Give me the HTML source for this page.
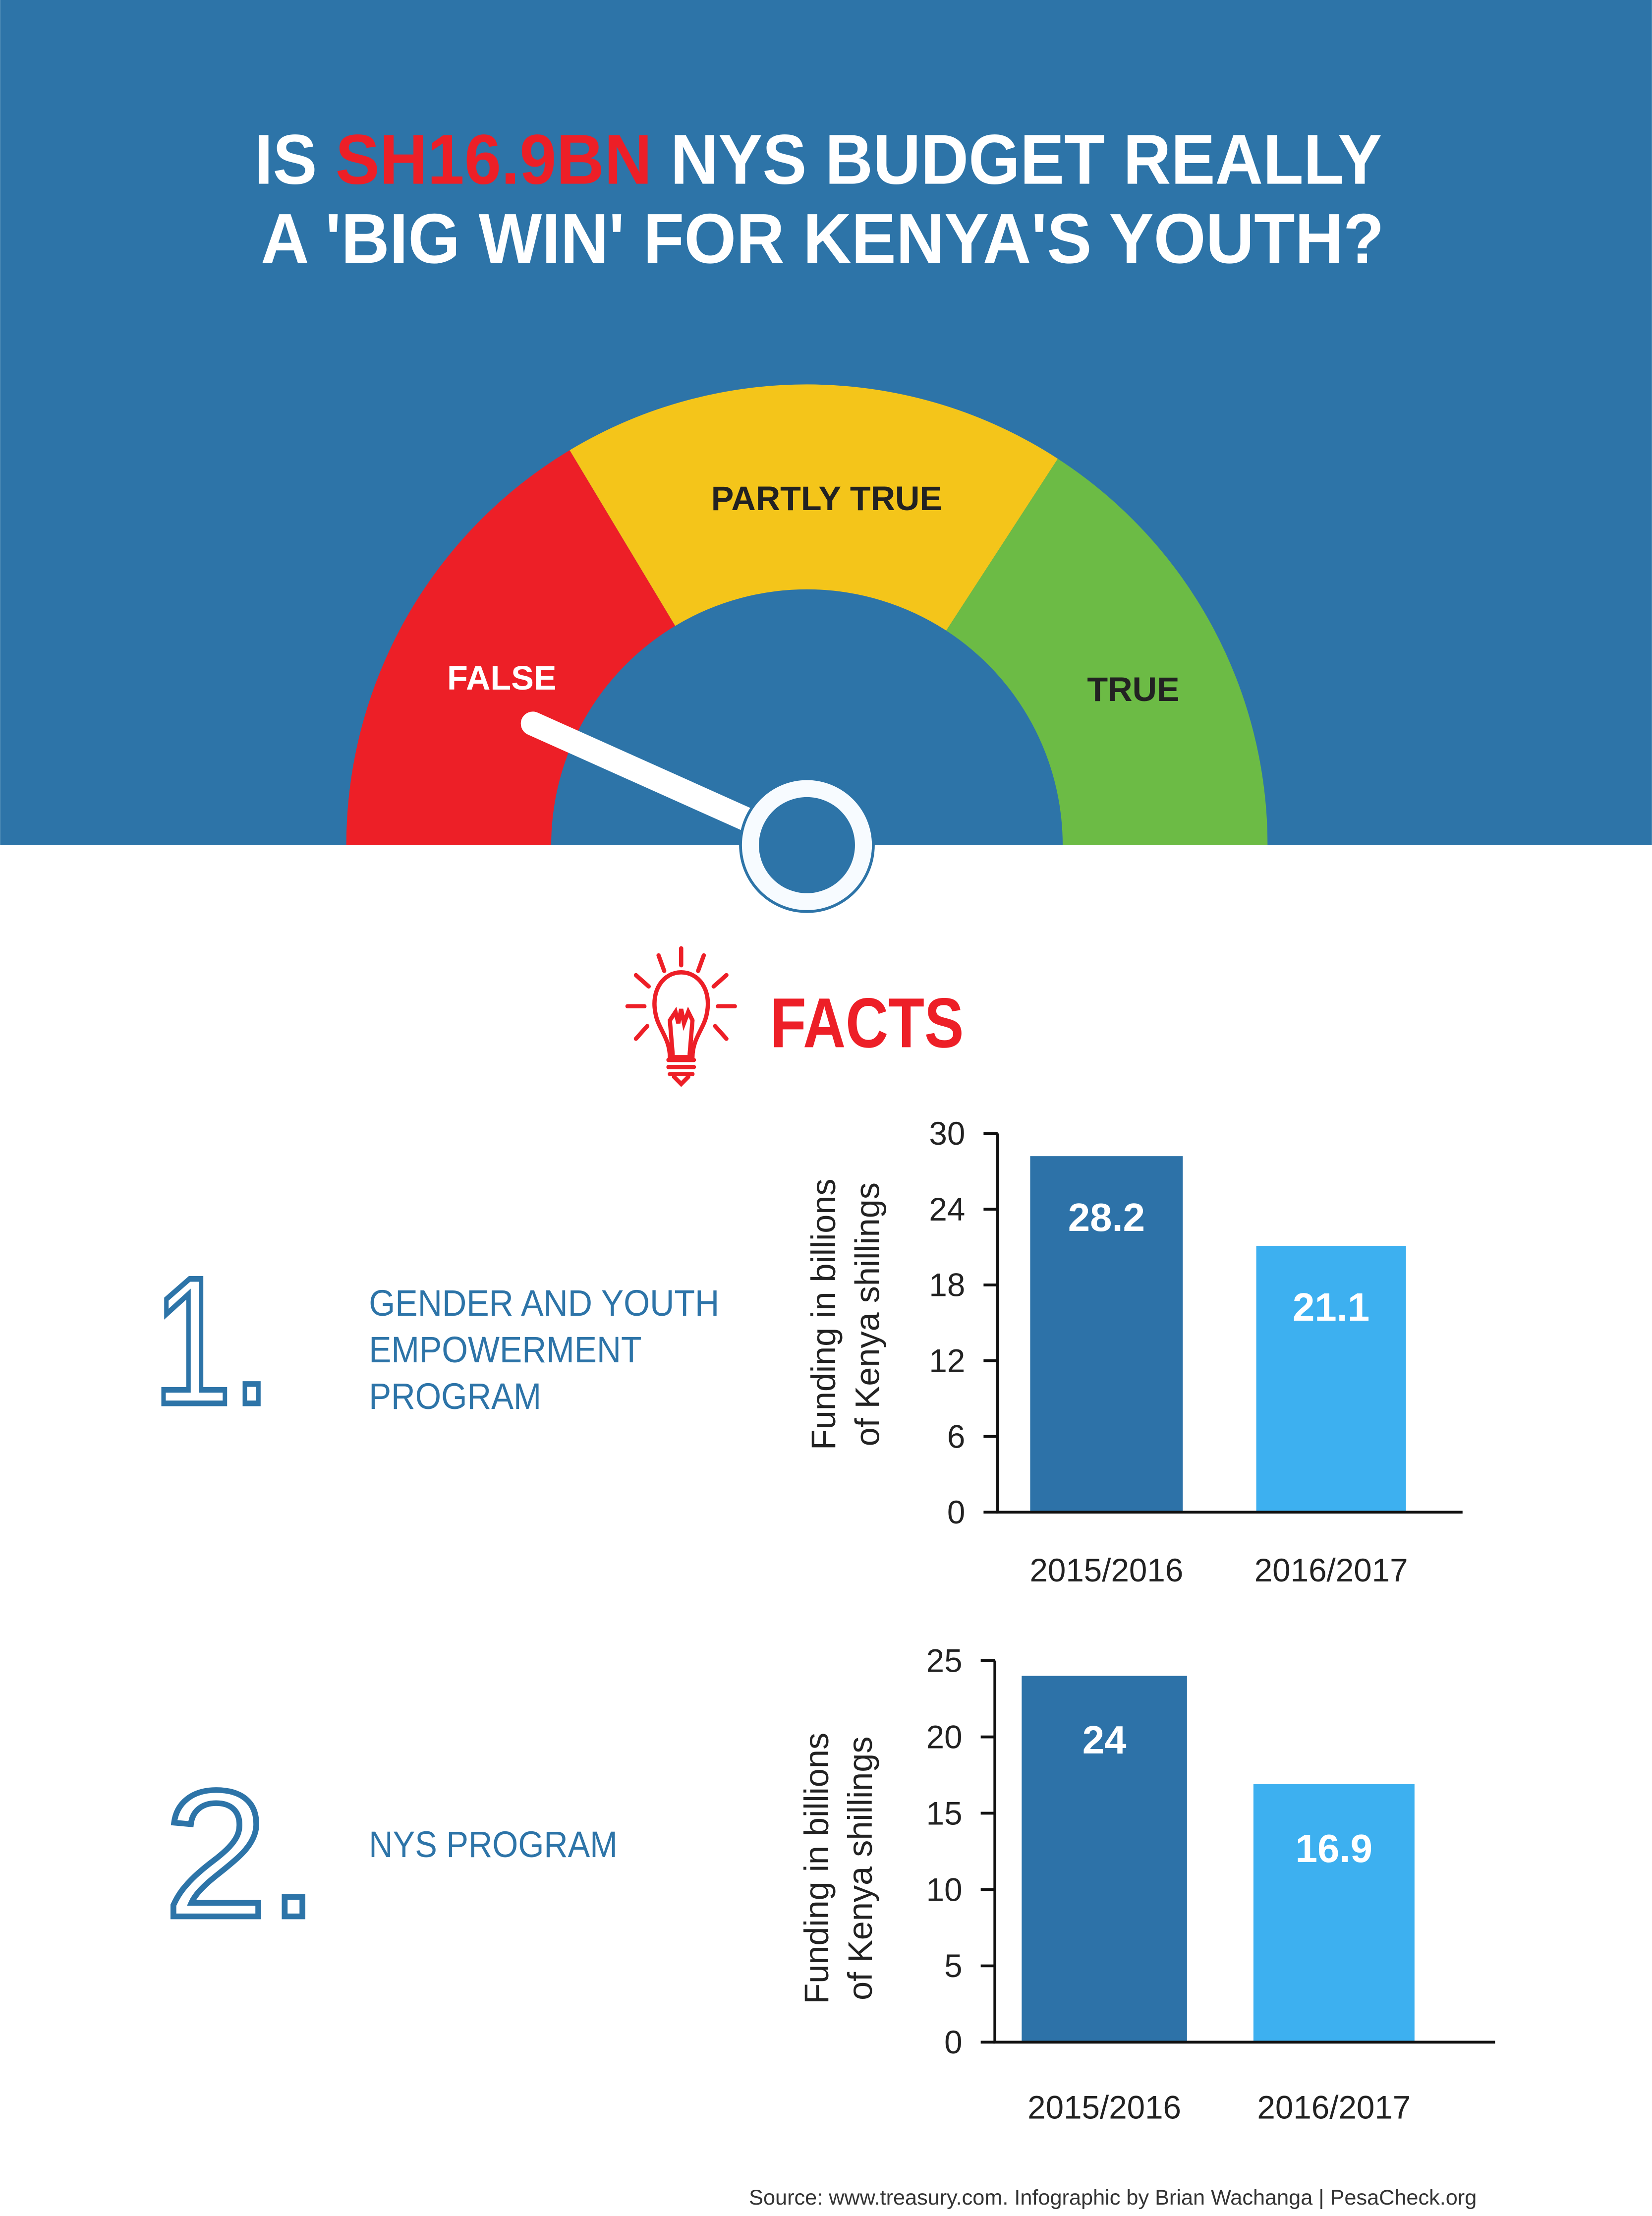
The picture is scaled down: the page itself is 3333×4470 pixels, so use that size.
<!DOCTYPE html>
<html><head><meta charset="utf-8"><style>
html,body{margin:0;padding:0;background:#fff}
svg{display:block}
text{font-family:"Liberation Sans",sans-serif}
</style></head><body>
<svg id="root" width="3333" height="4470" viewBox="0 0 1169 1568" xmlns="http://www.w3.org/2000/svg">
<rect x="0" y="0" width="1169" height="598" fill="#2d74a8"/>
<g font-weight="bold" font-size="50" fill="#fff" text-anchor="middle">
<text x="579" y="130" textLength="798" lengthAdjust="spacingAndGlyphs">IS <tspan fill="#ed1f27">SH16.9BN</tspan> NYS BUDGET REALLY</text>
<text x="582" y="186" textLength="795" lengthAdjust="spacingAndGlyphs">A 'BIG WIN' FOR KENYA'S YOUTH?</text>
</g>
<g id="gauge"></g>
<g font-weight="bold" font-size="24" text-anchor="middle">
<text x="355" y="488" fill="#fff">FALSE</text>
<text x="585" y="361" fill="#222">PARTLY TRUE</text>
<text x="802" y="496" fill="#222">TRUE</text>
</g>
<g>
<line x1="377" y1="512" x2="560" y2="594" stroke="#fff" stroke-width="17" stroke-linecap="round"/>
<circle cx="571" cy="598" r="48" fill="#2d74a8"/>
<circle cx="571" cy="598" r="46" fill="#f7fbff"/>
<circle cx="571" cy="598" r="34" fill="#2d74a8"/>
</g>
<g stroke="#ed1f27" stroke-width="3" fill="none" stroke-linecap="round">
<path d="M474,748 C474,735 466,728 464,718 C460,700 470,688 482,688 C494,688 504,700 500,718 C498,728 490,735 490,748 Z"/>
<path d="M476,746 L474,722 L478,716 L480,724 L482,714 L484,724 L487,716 L490,722 L488,746"/>
<path d="M473,750 H491 M473,755 H491 M474,760 H490 M477,762 L482,767 L487,762" />
<path d="M482,671 V683 M466,676 L470,687 M498,676 L494,687 M450,690 L459,698 M514,690 L505,698 M444,712 H456 M508,712 H520 M450,735 L458,726 M514,735 L506,726"/>
</g>
<text x="545" y="741" font-size="50" font-weight="bold" fill="#ed1f27" textLength="137" lengthAdjust="spacingAndGlyphs">FACTS</text>
<g>
<text x="108" y="993" font-size="128" fill="#fff" stroke="#2d74a8" stroke-width="4" textLength="84" lengthAdjust="spacingAndGlyphs">1.</text>
<g font-size="26" fill="#2d74a8" lengthAdjust="spacingAndGlyphs">
<text x="261" y="931" textLength="248" lengthAdjust="spacingAndGlyphs">GENDER AND YOUTH</text>
<text x="261" y="964" textLength="193" lengthAdjust="spacingAndGlyphs">EMPOWERMENT</text>
<text x="261" y="997" textLength="122" lengthAdjust="spacingAndGlyphs">PROGRAM</text>
</g>
</g>
<g>
<text x="116" y="1356" font-size="128" fill="#fff" stroke="#2d74a8" stroke-width="4" textLength="110" lengthAdjust="spacingAndGlyphs">2.</text>
<text font-size="26" fill="#2d74a8" x="261" y="1314" textLength="176" lengthAdjust="spacingAndGlyphs">NYS PROGRAM</text>
</g>
<g id="chart1"></g>
<g id="chart2"></g>
<text x="530" y="1560" font-size="15" fill="#333" textLength="515" lengthAdjust="spacingAndGlyphs">Source: www.treasury.com.  Infographic by Brian Wachanga | PesaCheck.org</text>
</svg>
<script>
var NS='http://www.w3.org/2000/svg';
function mk(p,t,a){var e=document.createElementNS(NS,t);for(var k in a)e.setAttribute(k,a[k]);p.appendChild(e);return e;}
// gauge
var g=document.getElementById('gauge');
var cx=571,cy=598,R=326,r=181;
function arc(a0,a1){var f=Math.PI/180;function P(rr,a){return (cx+rr*Math.cos(a*f))+','+(cy-rr*Math.sin(a*f));}
return 'M'+P(R,a0)+' A'+R+','+R+' 0 0 1 '+P(R,a1)+' L'+P(r,a1)+' A'+r+','+r+' 0 0 0 '+P(r,a0)+' Z';}
var segs=[[180,121,'#ed1f27','gauge-false'],[121,57,'#f4c51a','gauge-partly-true'],[57,0,'#6cbb45','gauge-true']];
segs.forEach(function(s){var p=mk(g,'path',{d:arc(s[0],s[1]),fill:s[2]});

});

// chart 1 data
var cats1=['2015/2016','2016/2017'];
var vals1=[28.2,21.1];
var labels1=['28.2','21.1'];
var ticks1=[0,6,12,18,24,30];
// chart 2 data
var cats2=['2015/2016','2016/2017'];
var vals2=[24,16.9];
var labels2=['24','16.9'];
var ticks2=[0,5,10,15,20,25];

function chart(id,cats,vals,labels,ticks,cfg){
 var c=document.getElementById(id);
 var max=ticks[ticks.length-1];
 function y(v){return cfg.y0-(cfg.y0-cfg.yTop)*v/max;}
 cats.forEach(function(cat,i){
  var x0=cfg.bars[i][0],x1=cfg.bars[i][1];
  var b=mk(c,'rect',{x:x0,y:y(vals[i]),width:x1-x0,height:cfg.y0-y(vals[i]),fill:i==0?'#2d72a8':'#3db0f0'});
  
  
  var t=mk(c,'text',{x:(x0+x1)/2,y:y(vals[i])+cfg.lblOff,'text-anchor':'middle','font-size':28,'font-weight':'bold',fill:'#fff'});
  t.textContent=labels[i];
  
  
  var ct=mk(c,'text',{x:(x0+x1)/2,y:cfg.catY,'text-anchor':'middle','font-size':23,fill:'#222'});
  ct.textContent=cat;
  
  
 });
 var ax=mk(c,'path',{d:'M'+cfg.ax+','+y(max)+' V'+cfg.y0+' H'+cfg.axEnd,stroke:'#111','stroke-width':2,fill:'none'});
 
 
 ticks.forEach(function(v){
  var tl=mk(c,'line',{x1:cfg.ax-10,x2:cfg.ax,y1:y(v),y2:y(v),stroke:'#111','stroke-width':2});
  
  
  var tt=mk(c,'text',{x:cfg.ax-23,y:y(v)+8,'text-anchor':'end','font-size':23,fill:'#222'});
  tt.textContent=v;
  
  
 });
 var yt=mk(c,'text',{transform:'translate('+cfg.titleX+','+cfg.titleY+') rotate(-90)','text-anchor':'middle','font-size':24,fill:'#222'});
 
 
 var s1=mk(yt,'tspan',{x:0,y:0});s1.textContent='Funding in billions';
 var s2=mk(yt,'tspan',{x:0,y:31});s2.textContent='of Kenya shillings';
}
chart('chart1',cats1,vals1,labels1,ticks1,{y0:1070,yTop:802,ax:706,axEnd:1035,bars:[[729,837],[889,995]],lblOff:53,catY:1119,titleX:591,titleY:930});
chart('chart2',cats2,vals2,labels2,ticks2,{y0:1445,yTop:1175,ax:704,axEnd:1058,bars:[[723,840],[887,1001]],lblOff:55,catY:1499,titleX:586,titleY:1322});
</script>
</body></html>
